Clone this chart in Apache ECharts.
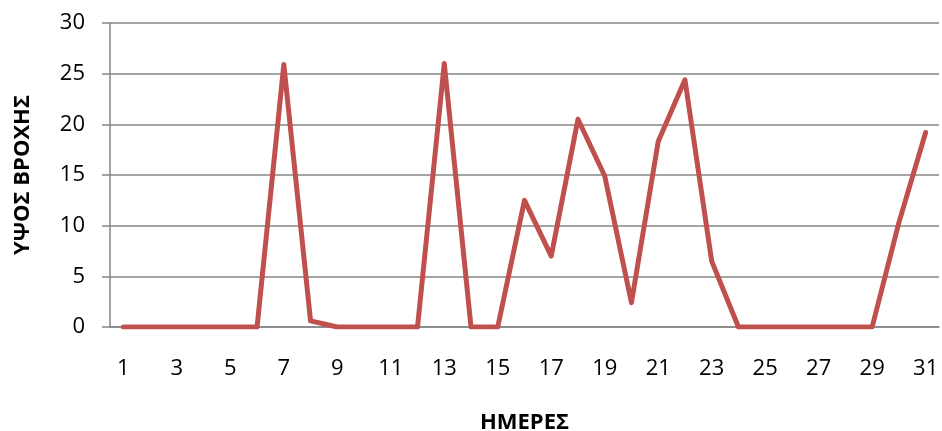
<!DOCTYPE html>
<html><head><meta charset="utf-8">
<script src="https://cdn.jsdelivr.net/npm/echarts@6/dist/echarts.min.js"></script>
<style>html,body{margin:0;padding:0;background:#fff}#c{width:942px;height:431px}</style>
</head><body><div id="c"></div>
<script>
const days = ['1','2','3','4','5','6','7','8','9','10','11','12','13','14','15','16','17','18','19','20','21','22','23','24','25','26','27','28','29','30','31'];
const rainfall = [0,0,0,0,0,0,25.9,0.6,0,0,0,0,26.0,0,0,12.5,7.0,20.5,14.9,2.4,18.3,24.4,6.5,0,0,0,0,0,0,10.3,19.2];
const yTicks = {min:0, max:30, interval:5};
const xTitle = 'ΗΜΕΡΕΣ';
const yTitle = 'ΥΨΟΣ ΒΡΟΧΗΣ';

const chart = echarts.init(document.getElementById('c'), null, {renderer:'canvas'});
const font = '"Open Sans", "DejaVu Sans", sans-serif';
chart.setOption({
  animation:false,
  grid:{left:110, right:3, top:23, bottom:104, containLabel:false, outerBoundsMode:'none'},
  xAxis:{
    type:'category', data:days, boundaryGap:true,
    name:xTitle, nameLocation:'middle', nameGap:85,
    nameTextStyle:{fontFamily:font, fontWeight:'bold', fontSize:22, color:'#000'},
    axisLine:{lineStyle:{color:'#868686', width:1.5}},
    axisTick:{show:false},
    axisLabel:{interval:1, margin:31, fontFamily:font, fontSize:22, color:'#000'}
  },
  yAxis:{
    type:'value', min:yTicks.min, max:yTicks.max, interval:yTicks.interval,
    name:yTitle, nameLocation:'middle', nameGap:76, nameRotate:90,
    nameTextStyle:{fontFamily:font, fontWeight:'bold', fontSize:22, color:'#000'},
    axisLine:{show:true, lineStyle:{color:'#868686', width:1.5}},
    axisTick:{show:true, length:8, lineStyle:{color:'#868686', width:1.5}},
    axisLabel:{margin:25, fontFamily:font, fontSize:22, color:'#000'},
    splitLine:{lineStyle:{color:'#868686', width:1.5}}
  },
  series:[{
    type:'line', data:rainfall, symbol:'none',
    lineStyle:{color:'#C0504D', width:5, cap:'round', join:'round'}
  }]
});
</script></body></html>
